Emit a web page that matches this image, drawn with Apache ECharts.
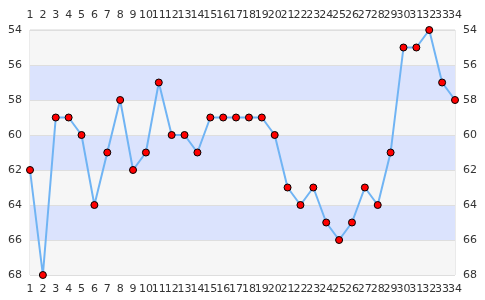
<!DOCTYPE html>
<html>
<head>
<meta charset="utf-8">
<script src="https://cdn.jsdelivr.net/npm/echarts@6/dist/echarts.min.js"></script>
<style>html,body{margin:0;padding:0;background:#fff}#c{width:485px;height:300px}</style>
</head>
<body>
<div id="c"></div>
<script>
var categories = ['1','2','3','4','5','6','7','8','9','10','11','12','13','14','15','16','17','18','19','20','21','22','23','24','25','26','27','28','29','30','31','32','33','34'];
var values = [62,68,59,59,60,64,61,58,62,61,57,60,60,61,59,59,59,59,59,60,63,64,63,65,66,65,63,64,61,55,55,54,57,58];
var yMin = 54, yMax = 68, yStep = 2;

var chart = echarts.init(document.getElementById('c'), null, {renderer:'canvas'});
var labelStyle = {color:'#333', fontSize:11, fontFamily:'DejaVu Sans'};
var xBase = {
  type:'category', data:categories, boundaryGap:false,
  axisLine:{show:false}, axisTick:{show:false}, splitLine:{show:false},
  axisLabel:Object.assign({interval:0, margin:9}, labelStyle)
};
var yBase = {
  type:'value', inverse:true, min:yMin, max:yMax, interval:yStep,
  axisLine:{show:false}, axisTick:{show:false},
  axisLabel:Object.assign({margin:8}, labelStyle)
};
chart.setOption({
  animation:false,
  grid:{left:30, right:30, top:30, bottom:25, show:true, borderColor:'#d6d6d6', borderWidth:1, backgroundColor:'transparent'},
  xAxis:[
    Object.assign({position:'bottom'}, xBase),
    Object.assign({position:'top'}, xBase)
  ],
  yAxis:[
    Object.assign({position:'left', splitLine:{show:true, lineStyle:{color:'#dedede'}}, splitArea:{show:true, areaStyle:{color:['#f6f6f6','#dbe3fd']}}}, yBase),
    Object.assign({position:'right', splitLine:{show:false}}, yBase)
  ],
  series:[{
    type:'line', data:values, xAxisIndex:0, yAxisIndex:0,
    symbol:'circle', symbolSize:7,
    lineStyle:{color:'#70b4f4', width:2},
    itemStyle:{color:'#ff0000', borderColor:'#000', borderWidth:1}
  }]
});
</script>
</body>
</html>
